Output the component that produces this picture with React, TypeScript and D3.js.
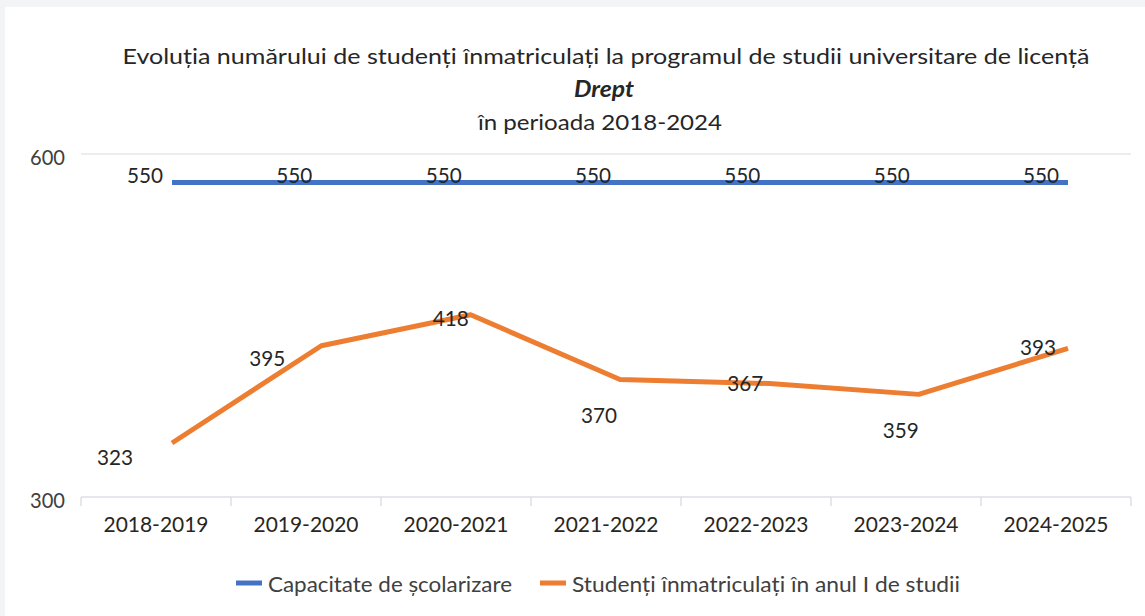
import React from 'react';
import * as d3 from 'd3';

const categories = ['2018-2019', '2019-2020', '2020-2021', '2021-2022', '2022-2023', '2023-2024', '2024-2025'];
const capacity = [550, 550, 550, 550, 550, 550, 550];
const enrolled = [323, 395, 418, 370, 367, 359, 393];
const yTicks = [300, 600];
const seriesNames = ['Capacitate de școlarizare', 'Studenți înmatriculați în anul I de studii'];
const titleLine1 = 'Evoluția numărului de studenți înmatriculați la programul de studii universitare de licență';
const titleLine2 = 'Drept';
const titleLine3 = 'în perioada 2018-2024';

// label nudges (layout only)
const enrolledLabelNudge: [number, number][] = [[-57, 14], [-54, 12], [-20, 3], [-21, 35], [-24, -1], [-18, 35], [-30, -2]];

const W = 1145, H = 616;
const FONT = 'Lato, "Open Sans", sans-serif';
const BLUE = '#4472C4';
const ORANGE = '#ED7D31';

export default function App() {
  const xBand = d3.scaleBand().domain(categories).range([81, 1131]);
  const xLine = d3.scalePoint().domain(categories).range([172, 1068]);
  const yAxis = d3.scaleLinear().domain([300, 600]).range([497, 154]);
  const yCap = d3.scaleLinear().domain([0, 600]).range([497, 154]);
  const yEnr = d3.scaleLinear().domain([283, 537]).range([497, 154]);

  const capLine = d3.line<number>().x((_, i) => xLine(categories[i])!).y((d) => yCap(d));
  const enrLine = d3.line<number>().x((_, i) => xLine(categories[i])!).y((d) => yEnr(d));

  const boundaries = [...categories.map((c) => xBand(c)!), xBand.range()[1]];

  return (
    <svg width={W} height={H} style={{ position: 'absolute', left: 0, top: 0 }} fontFamily={FONT}>
      <rect x={0} y={0} width={W} height={H} fill="#f3f4f6" />
      <rect x={5} y={7} width={W - 5} height={H - 7} fill="#ffffff" />

      <g fill="#262626" textAnchor="middle">
        <text x={606} y={55} fontSize={21} dominantBaseline="central" textLength={967} lengthAdjust="spacingAndGlyphs">{titleLine1}</text>
        <text x={604} y={88} fontSize={22} fontWeight="bold" fontStyle="italic" dominantBaseline="central" textLength={60} lengthAdjust="spacingAndGlyphs">{titleLine2}</text>
        <text x={600} y={121} fontSize={21} dominantBaseline="central" textLength={244} lengthAdjust="spacingAndGlyphs">{titleLine3}</text>
      </g>

      {/* gridline at top */}
      <line x1={81} x2={1131} y1={yAxis(600)} y2={yAxis(600)} stroke="#e6e7ec" strokeWidth={1.5} />
      {/* x axis */}
      <line x1={81} x2={1131} y1={yAxis(300)} y2={yAxis(300)} stroke="#dcdfe6" strokeWidth={1.5} />
      {boundaries.map((b, i) => (
        <line key={i} x1={b} x2={b} y1={yAxis(300)} y2={yAxis(300) + 9} stroke="#dcdfe6" strokeWidth={1.5} />
      ))}

      {yTicks.map((t) => (
        <text key={t} x={65} y={yAxis(t) + 2} textAnchor="end" dominantBaseline="central" fontSize={21} fill="#404040" textLength={35} lengthAdjust="spacingAndGlyphs">{t}</text>
      ))}

      {categories.map((c) => (
        <text key={c} x={xBand(c)! + xBand.bandwidth() / 2} y={523} textAnchor="middle" dominantBaseline="central" fontSize={21} fill="#262626" textLength={105} lengthAdjust="spacingAndGlyphs">{c}</text>
      ))}

      <path d={capLine(capacity)!} fill="none" stroke={BLUE} strokeWidth={5} />
      <path d={enrLine(enrolled)!} fill="none" stroke={ORANGE} strokeWidth={5} strokeLinejoin="round" />

      {capacity.map((v, i) => (
        <text key={'c' + i} x={xLine(categories[i])! - 27} y={yCap(v) - 8} textAnchor="middle" dominantBaseline="central" fontSize={21} fill="#262626" textLength={36} lengthAdjust="spacingAndGlyphs">{v}</text>
      ))}
      {enrolled.map((v, i) => (
        <text key={'e' + i} x={xLine(categories[i])! + enrolledLabelNudge[i][0]} y={yEnr(v) + enrolledLabelNudge[i][1]} textAnchor="middle" dominantBaseline="central" fontSize={21} fill="#262626" textLength={36} lengthAdjust="spacingAndGlyphs">{v}</text>
      ))}

      <g>
        <line x1={236} x2={262} y1={583} y2={583} stroke={BLUE} strokeWidth={5} />
        <text x={268} y={583} dominantBaseline="central" fontSize={21} fill="#404040" textLength={244} lengthAdjust="spacingAndGlyphs">{seriesNames[0]}</text>
        <line x1={540} x2={566} y1={583} y2={583} stroke={ORANGE} strokeWidth={5} />
        <text x={572} y={583} dominantBaseline="central" fontSize={21} fill="#404040" textLength={388} lengthAdjust="spacingAndGlyphs">{seriesNames[1]}</text>
      </g>
    </svg>
  );
}
